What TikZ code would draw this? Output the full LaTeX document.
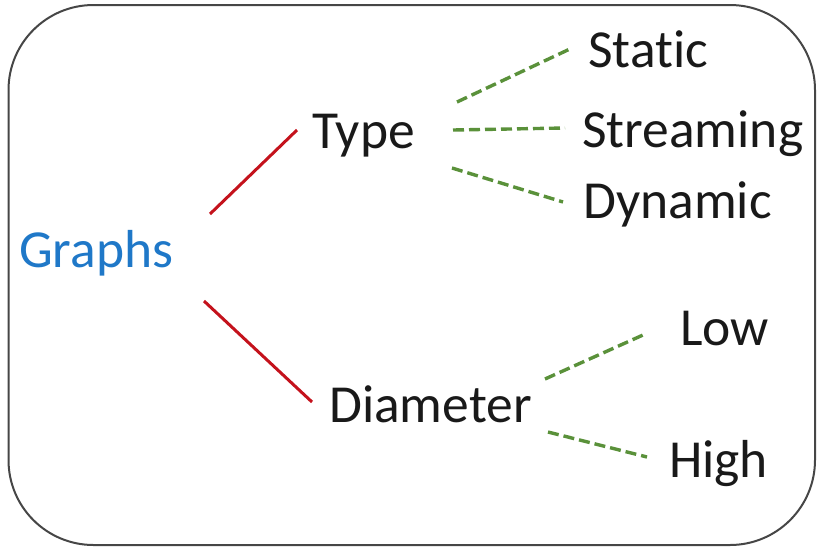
\documentclass[tikz,border=0pt]{standalone}
\usepackage{fontspec}
\setmainfont{Carlito}[Ligatures={NoCommon}]
\definecolor{framegray}{RGB}{70,70,70}
\definecolor{rootblue}{RGB}{31,120,200}
\definecolor{branchred}{RGB}{196,18,28}
\definecolor{leafgreen}{RGB}{90,145,58}
\definecolor{textdark}{RGB}{25,25,25}
\begin{document}
\begin{tikzpicture}[x=1pt,y=-1pt,
  lbl/.style={anchor=base west,inner sep=0pt,text=textdark,font=\fontsize{53.5}{60}\selectfont},
  redline/.style={draw=branchred,line width=3pt},
  greenline/.style={draw=leafgreen,line width=3.4pt,dash pattern=on 11pt off 5pt}]
\useasboundingbox (0,0) rectangle (817,547);
% outer frame
\draw[framegray,line width=2pt,rounded corners=85pt] (8.5,5) rectangle (815,545);
% labels
\node[lbl,text=rootblue] (graphs) at (19,267) {Graphs};
\node[lbl] (type) at (312,148) {Type};
\node[lbl] (static) at (588,67) {Static};
\node[lbl] (streaming) at (582,147) {Streaming};
\node[lbl] (dynamic) at (583,218) {Dynamic};
\node[lbl] (diameter) at (329,422) {Diameter};
\node[lbl] (low) at (680,345) {Low};
\node[lbl] (high) at (669,477) {High};
% connector end points
\coordinate (g1) at (210,214);
\coordinate (t0) at (297,130);
\coordinate (g2) at (204,301);
\coordinate (d0) at (312,402);
\coordinate (t1) at (457,102);
\coordinate (s0) at (572,48);
\coordinate (t2) at (453,130);
\coordinate (r0) at (565,128);
\coordinate (t3) at (452,168);
\coordinate (y0) at (563,202);
\coordinate (d1) at (545,379);
\coordinate (l0) at (643,335);
\coordinate (d2) at (548,432);
\coordinate (h0) at (647,457);
% branches
\draw[redline] (g1) -- (t0);
\draw[redline] (g2) -- (d0);
\draw[greenline] (t1) -- (s0);
\draw[greenline] (t2) -- (r0);
\draw[greenline] (t3) -- (y0);
\draw[greenline] (d1) -- (l0);
\draw[greenline] (d2) -- (h0);
\end{tikzpicture}
\end{document}
